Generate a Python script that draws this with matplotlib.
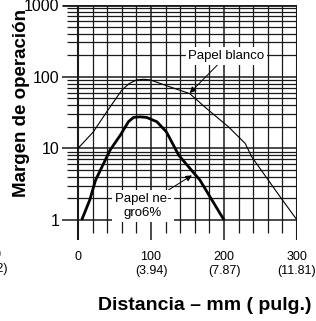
import numpy as np
import matplotlib
matplotlib.use('Agg')
import matplotlib.pyplot as plt

plt.rcParams['font.family'] = ['Liberation Sans Narrow', 'Liberation Sans', 'DejaVu Sans']

# curves (distance mm, margin)
blanco_x = [0, 21, 39, 60, 70, 80, 90, 99, 126, 153, 176, 206, 229, 238, 277, 300]
blanco_y = [10, 17, 32, 65, 80, 90, 92, 90, 72, 58, 36, 20, 11.7, 7.6, 2.1, 1]
negro_x = [5, 16, 24, 44, 58, 69, 76, 85, 94, 108, 121, 138, 167, 200]
negro_y = [1, 1.9, 3.6, 9.5, 15.3, 23.5, 27, 27.5, 27, 23.5, 17, 8, 3.6, 1]

xticks = [0, 100, 200, 300]
xticklabels = ['0', '100\n(3.94)', '200\n(7.87)', '300\n(11.81)']
yticks = [1, 10, 100, 1000]
yticklabels = ['1', '10', '100', '1000']

W, H = 316, 321
fig = plt.figure(figsize=(W / 100, H / 100), dpi=100)
ax = fig.add_axes([62 / W, 81 / H, 235 / W, 235 / H])
ax.set_yscale('log')
ax.set_xlim(-22, 300)
ax.set_ylim(0.526, 1000)

gc = '#1a1a1a'
# vertical grid
for x in range(0, 301, 20):
    if x % 100 == 0:
        ax.vlines(x, 0.526, 1000, color=gc, lw=1.5 if x in (0, 300) else 1.1, zorder=1)
    else:
        ax.vlines(x, 0.66, 1000, color=gc, lw=0.9, zorder=1)
# horizontal grid
for dec in [1, 10, 100]:
    for m in range(1, 10):
        y = dec * m
        if m == 1:
            ax.hlines(y, -22, 300, color=gc, lw=1.1, zorder=1)
        else:
            ax.hlines(y, -15, 300, color=gc, lw=0.9, zorder=1)
ax.hlines(1000, -22, 300, color=gc, lw=2.0, zorder=1)

ax.plot(blanco_x, blanco_y, color='black', lw=0.8, zorder=3)
ax.plot(negro_x, negro_y, color='black', lw=2.0, zorder=3, solid_capstyle='butt')

box = dict(boxstyle='square,pad=0.2', fc='white', ec='none')
arrow = dict(arrowstyle='-|>', color='black', lw=0.7, mutation_scale=9,
             shrinkA=0, shrinkB=0)
ax.annotate('Papel blanco', xy=(153, 59), xytext=(203, 194), fontsize=9.5,
            ha='center', va='center', bbox=box, arrowprops=arrow, zorder=4)
ax.annotate('Papel ne-\ngro6%', xy=(156, 4.2), xytext=(89, 1.57), fontsize=9.5,
            ha='center', va='center', bbox=box, arrowprops=arrow, zorder=4,
            linespacing=1.3)

for s in ax.spines.values():
    s.set_visible(False)
ax.set_xticks(xticks)
ax.set_xticklabels(xticklabels, fontsize=9, linespacing=1.25)
ax.set_yticks(yticks)
ax.set_yticklabels(yticklabels, fontsize=11.5)
ax.minorticks_off()
ax.tick_params(length=0)
ax.tick_params(axis='x', pad=8)
ax.tick_params(axis='y', pad=2)

ax.set_xlabel('Distancia – mm ( pulg.)', fontsize=14, fontweight='bold', va='center')
ax.xaxis.set_label_coords((205 - 62) / 235, (321 - 305 - 81) / 235)
ax.set_ylabel('Margen de operación', fontsize=13.5, fontweight='bold', va='center')
ax.yaxis.set_label_coords((21 - 62) / 235, (321 - 103 - 81) / 235)

# clipped label at left edge
fig.text(-9 / W, 1 - 262 / H, '100\n(3.92)', fontsize=9, ha='center', va='center',
         linespacing=1.25)

fig.savefig('out.png', dpi=100)
